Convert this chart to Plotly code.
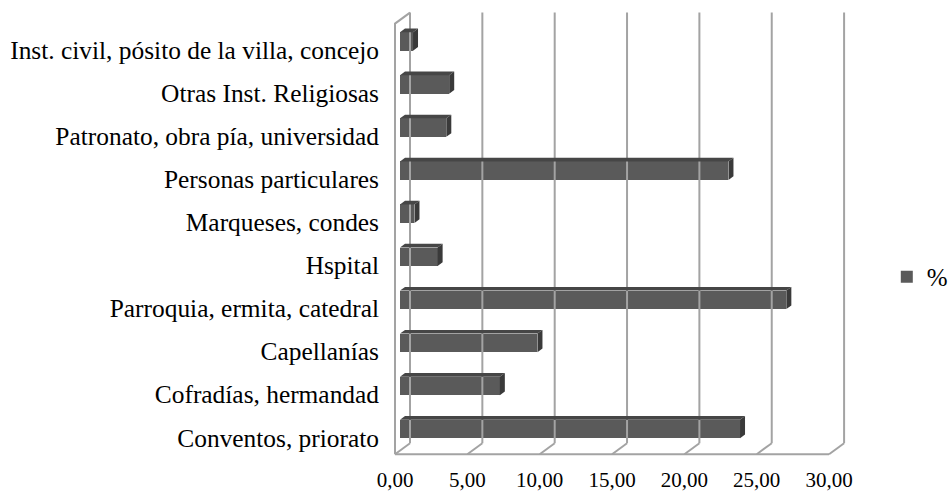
import plotly.graph_objects as go

# ---- data ----
categories = [
    "Conventos, priorato",
    "Cofradías, hermandad",
    "Capellanías",
    "Parroquia, ermita, catedral",
    "Hspital",
    "Marqueses, condes",
    "Personas particulares",
    "Patronato, obra pía, universidad",
    "Otras Inst. Religiosas",
    "Inst. civil, pósito de la villa, concejo",
]
values = [23.5, 6.9, 9.5, 26.7, 2.6, 1.0, 22.7, 3.2, 3.4, 0.9]
series_name = "%"
x_ticks = [0, 5, 10, 15, 20, 25, 30]
x_tick_labels = ["0,00", "5,00", "10,00", "15,00", "20,00", "25,00", "30,00"]

# ---- 3D-look geometry (in axis units) ----
DX = 1.037      # wall depth along x
DY = 0.2555     # wall depth along y
BAR_H = 0.215   # half height of bar front face
BX, BY = DX / 3, DY / 3   # bar depth
FONT = "Liberation Serif, Times New Roman, serif"
GRID = "#a3a3a3"
FRONT = "#5a5a5a"
TOP = "#464646"
SIDE = "#3a3a3a"

pos = list(range(len(categories)))
ylo, yhi = pos[0] - 0.5, pos[-1] + 0.5

# walls / gridlines
gx, gy = [], []
for v in x_ticks:
    gx += [v + 2 * DX / 3, v + 2 * DX / 3, None]
    gy += [ylo + 2 * DY / 3, yhi + 2 * DY / 3, None]
    gx += [v + 2 * DX / 3, v - DX / 3, None]
    gy += [ylo + 2 * DY / 3, ylo - DY / 3, None]
x0, x1 = x_ticks[0], x_ticks[-1]
gx += [x0 - DX / 3, x1 - DX / 3, None]
gy += [ylo - DY / 3, ylo - DY / 3, None]
gx += [x0 - DX / 3, x0 - DX / 3, x0 + 2 * DX / 3, None]
gy += [ylo - DY / 3, yhi - DY / 3, yhi + 2 * DY / 3, None]

# bar side and top faces
sx, sy, tx, ty = [], [], [], []
for p, v in zip(pos, values):
    sx += [v, v + BX, v + BX, v, v, None]
    sy += [p - BAR_H, p - BAR_H + BY, p + BAR_H + BY, p + BAR_H, p - BAR_H, None]
    tx += [0, BX, v + BX, v, 0, None]
    ty += [p + BAR_H, p + BAR_H + BY, p + BAR_H + BY, p + BAR_H, p + BAR_H, None]

fig = go.Figure()
fig.add_trace(go.Scatter(x=gx, y=gy, mode="lines", line=dict(color=GRID, width=2),
                         hoverinfo="skip", showlegend=False))
fig.add_trace(go.Bar(x=values, y=pos, orientation="h", width=2 * BAR_H,
                     marker=dict(color=FRONT, line=dict(width=0)), name=series_name))
fig.add_trace(go.Scatter(x=tx, y=ty, mode="lines", fill="toself", fillcolor=TOP,
                         line=dict(width=0, color=TOP), hoverinfo="skip", showlegend=False))
fig.add_trace(go.Scatter(x=sx, y=sy, mode="lines", fill="toself", fillcolor=SIDE,
                         line=dict(width=0, color=SIDE), hoverinfo="skip", showlegend=False))

fig.update_layout(
    width=952, height=493,
    margin=dict(l=390, r=102, t=8, b=33, autoexpand=False),
    paper_bgcolor="white", plot_bgcolor="white",
    font=dict(family=FONT, color="#000000"),
    showlegend=True,
    legend=dict(x=1.08, y=0.405, xanchor="left", yanchor="middle",
                font=dict(size=25, family=FONT), bgcolor="rgba(0,0,0,0)"),
    xaxis=dict(range=[-0.691, 31.10], showgrid=False, zeroline=False, showline=False,
               tickmode="array", tickvals=[v - DX / 3 for v in x_ticks], ticktext=x_tick_labels,
               ticks="", tickfont=dict(size=21, family=FONT), ticklabelstandoff=5),
    yaxis=dict(range=[-0.72, 9.777], showgrid=False, zeroline=False, showline=False,
               tickmode="array", tickvals=[p - 0.2 for p in pos], ticktext=categories,
               ticks="", tickfont=dict(size=25.4, family=FONT), ticklabelstandoff=10),
    bargap=0,
)

fig.write_html(
    "out.html",
    config={"displayModeBar": False},
    post_script="document.body.style.margin='0';document.body.style.overflow='hidden';",
)
